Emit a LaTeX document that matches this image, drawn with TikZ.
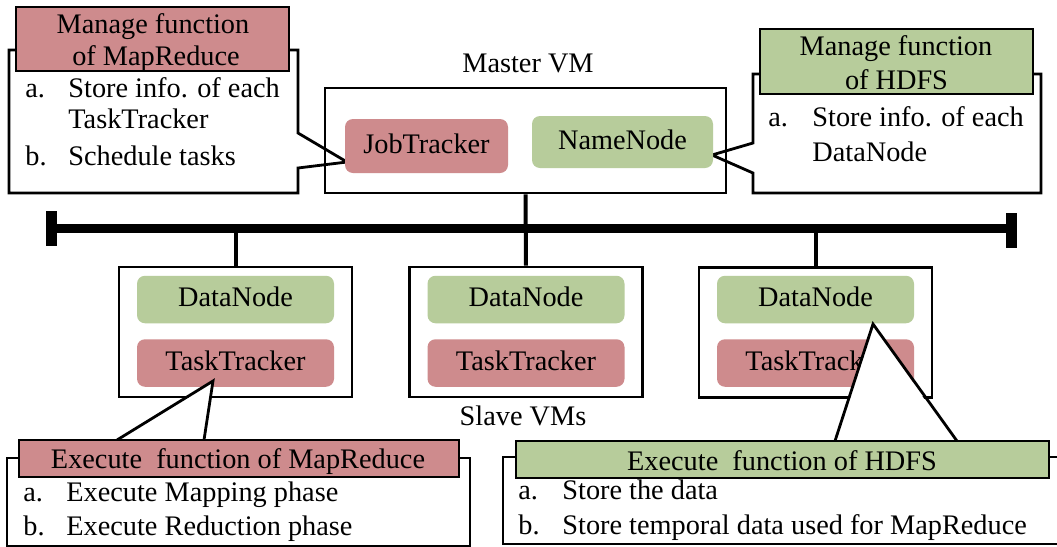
\documentclass[tikz,border=0pt]{standalone}
\usepackage{fontspec}
\setmainfont{Liberation Serif}
\usetikzlibrary{calc}
\definecolor{mrpink}{RGB}{206,139,141}
\definecolor{hdgreen}{RGB}{183,204,155}
\begin{document}
\begin{tikzpicture}[x=0.5pt,y=-0.5pt,
  font=\fontsize{14.15pt}{17pt}\selectfont,
  frame/.style={draw=black, line width=1.4pt},
  vmbox/.style={frame, inner sep=0pt, minimum width=116.5pt, minimum height=65pt},
  svc/.style={rounded corners=4pt, inner sep=0pt, minimum width=98.5pt, minimum height=23.75pt,
              text height=0.74em, text depth=0pt},
  pinksvc/.style={svc, fill=mrpink},
  greensvc/.style={svc, fill=hdgreen},
  head/.style={frame, inner sep=0pt},
  ltxt/.style={inner sep=0pt, anchor=base west},
  ctxt/.style={inner sep=0pt, anchor=base},
  link/.style={line width=2pt},
  bus/.style={line width=4.5pt},
  busend/.style={fill=black, inner sep=0pt, minimum width=5.5pt, minimum height=17.5pt}]
\useasboundingbox (0,0) rectangle (1057,547);
\fill[white] (0,0) rectangle (1057,547);

% ---------- management callout for MapReduce ----------
\coordinate (jtTip) at (347,162);
\draw[frame, fill=white] (9,50) -- (298,50) -- (298,133) -- (jtTip) -- (298,168)
      -- (298,193) -- (9,193) -- cycle;
\node[head, fill=mrpink, minimum width=136.5pt, minimum height=32pt] (tlHead) at (152.5,39) {};
\node[ctxt] (tlH1) at (153,33) {Manage function};
\node[ctxt] (tlH2) at (156,65) {of MapReduce};
\node[ltxt] (tlA)  at (25,97)  {a.};
\node[ltxt] (tlA1) at (68,97)  {Store info. of each};
\node[ltxt] (tlA2) at (68,128) {TaskTracker};
\node[ltxt] (tlB)  at (25,165) {b.};
\node[ltxt] (tlB1) at (68,165) {Schedule tasks};

% ---------- management callout for HDFS ----------
\coordinate (nnTip) at (712,155);
\draw[frame, fill=white] (753,74) -- (1041,74) -- (1041,193) -- (753,193) -- (753,173)
      -- (nnTip) -- (753,143) -- cycle;
\node[head, fill=hdgreen, minimum width=136.5pt, minimum height=32.5pt] (trHead) at (896.5,61.5) {};
\node[ctxt] (trH1) at (896,55) {Manage function};
\node[ctxt] (trH2) at (896.5,89) {of HDFS};
\node[ltxt] (trA)  at (768,126) {a.};
\node[ltxt] (trA1) at (812,126) {Store info. of each};
\node[ltxt] (trA2) at (812,161) {DataNode};

% ---------- master VM ----------
\node[frame, inner sep=0pt, minimum width=200.5pt, minimum height=52.5pt] (master) at (525.5,140.5) {};
\node[ctxt] (masterLbl) at (528,72) {Master VM};
\node[pinksvc, minimum width=81.5pt, minimum height=27pt] (jt) at (426.5,146) {JobTracker};
\node[greensvc, minimum width=90.5pt, minimum height=26pt] (nn) at (622.5,142) {NameNode};

% ---------- network bus ----------
\node[busend] (capL) at (51,228) {};
\node[busend] (capR) at (1011.5,230) {};
\draw[bus] (capL.center) -- (capR.center |- capL.center);

% ---------- slave VMs ----------
\node[vmbox] (s1) at (235.5,332) {};
\node[vmbox] (s2) at (526,332) {};
\node[vmbox] (s3) at (815.5,332.5) {};
\node[greensvc] (dn1) at (235.5,299.5) {DataNode};
\node[pinksvc]  (tt1) at (235.5,363)   {TaskTracker};
\node[greensvc] (dn2) at (526,299.5)   {DataNode};
\node[pinksvc]  (tt2) at (526,363)     {TaskTracker};
\node[greensvc] (dn3) at (815.5,299.5) {DataNode};
\node[pinksvc]  (tt3) at (815.5,363)   {TaskTracker};
\node[ctxt] (slaveLbl) at (523,425) {Slave VMs};

% ---------- links to the bus ----------
\draw[link] (master.south) -- (s2.north);
\draw[link] (s1.north) -- (s1.north |- capL.center);
\draw[link] (s3.north) -- (s3.north |- capL.center);

% ---------- execution callout for MapReduce ----------
\coordinate (ttTip) at (213,381);
\draw[frame, fill=white] (7,458) rectangle (470,546);
\fill[white] (117,446) -- (ttTip) -- (204,446) -- cycle;
\draw[frame] (117,440) -- (ttTip) -- (204,440);
\node[head, fill=mrpink, minimum width=220pt, minimum height=18.5pt] (blHead) at (239,458.5) {};
\node[ctxt] (blH) at (238,468) {Execute~ function of MapReduce};
\node[ltxt] (blA)  at (23,501) {a.};
\node[ltxt] (blA1) at (66,501) {Execute Mapping phase};
\node[ltxt] (blB)  at (23,535) {b.};
\node[ltxt] (blB1) at (66,535) {Execute Reduction phase};

% ---------- execution callout for HDFS ----------
\coordinate (dnTip) at (873,324);
\fill[white] (503,457) rectangle (1057,544);
\draw[frame] (1062,457) -- (503,457) -- (503,544) -- (1062,544);
\fill[white] (835,447) -- (dnTip) -- (957,447) -- cycle;
\draw[frame] (835,441) -- (dnTip) -- (957,441);
\node[head, fill=hdgreen, minimum width=266.5pt, minimum height=18.5pt] (brHead) at (782.5,459.5) {};
\node[ctxt] (brH) at (782,470) {Execute~ function of HDFS};
\node[ltxt] (brA)  at (518,499) {a.};
\node[ltxt] (brA1) at (562,499) {Store the data};
\node[ltxt] (brB)  at (518,534) {b.};
\node[ltxt] (brB1) at (562,534) {Store temporal data used for MapReduce};
\end{tikzpicture}
\end{document}
